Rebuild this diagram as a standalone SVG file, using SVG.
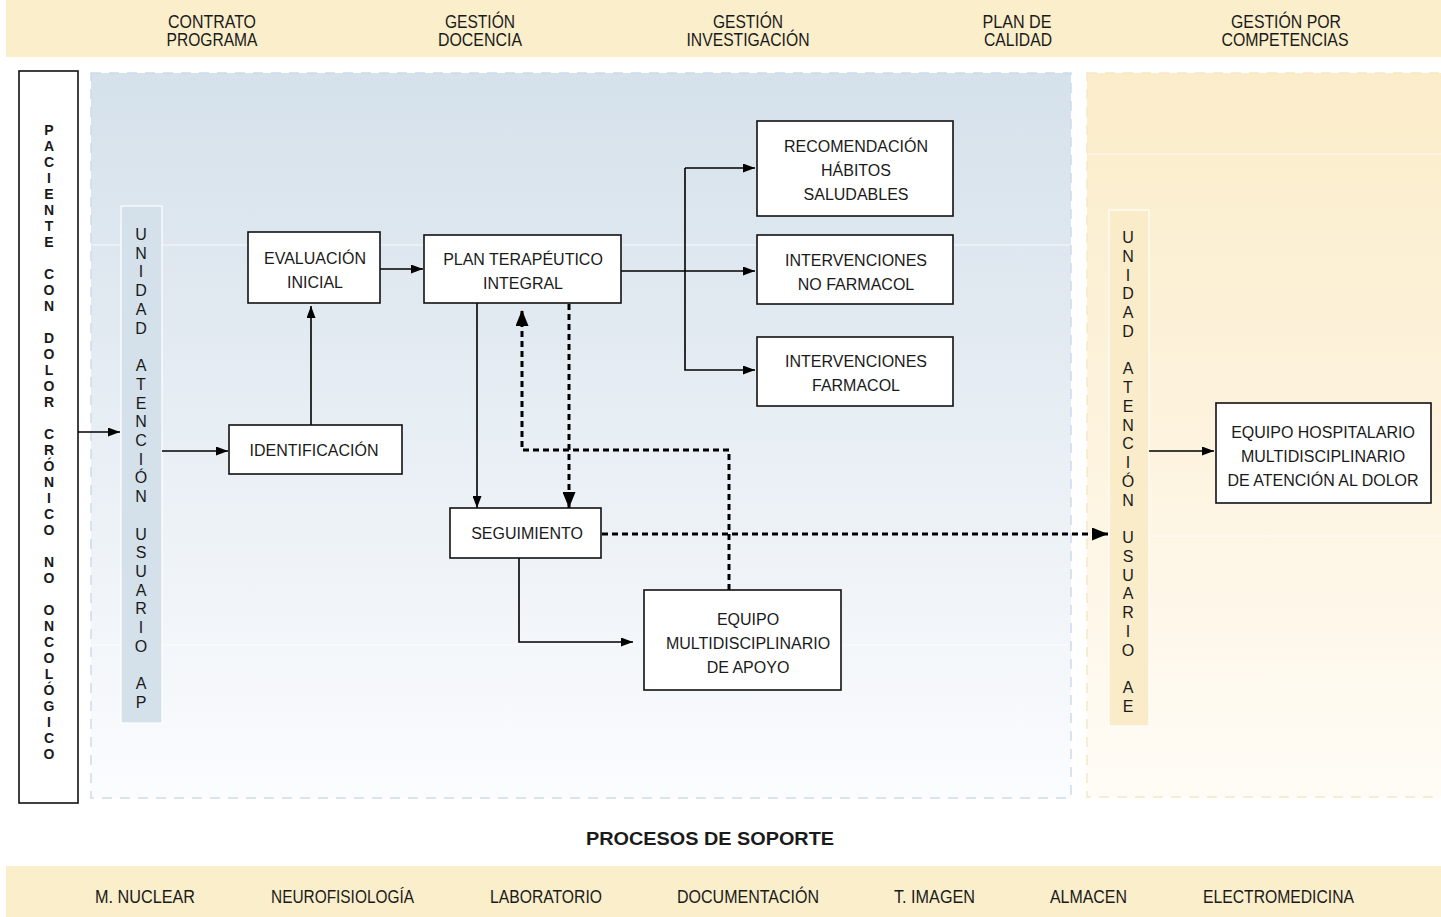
<svg xmlns="http://www.w3.org/2000/svg" width="1441" height="917" viewBox="0 0 1441 917">
<style>
.bar{fill:#fbeecb}
.t{font-family:"Liberation Sans",Arial,sans-serif;fill:#1a1a1a}
.bt{font-size:18px;text-anchor:middle}
.nt{font-size:16px;text-anchor:middle}
.node{fill:#fff;stroke:#111;stroke-width:1.6}
.ln{fill:none;stroke:#000;stroke-width:1.6}
.dl{fill:none;stroke:#000;stroke-width:3;stroke-dasharray:6 4}
.vl{font-size:14px;font-weight:bold;text-anchor:middle}
.vc{font-size:16px;text-anchor:middle}
.band{stroke:#fff;stroke-width:1;opacity:0.8}
</style>
<defs>
<linearGradient id="gb" x1="0" y1="0" x2="0" y2="1">
<stop offset="0" stop-color="#d5e1eb"/>
<stop offset="0.45" stop-color="#e6edf3"/>
<stop offset="1" stop-color="#fbfcfe"/>
</linearGradient>
<linearGradient id="gy" x1="0" y1="0" x2="0" y2="1">
<stop offset="0" stop-color="#fbedca"/>
<stop offset="0.5" stop-color="#fdf3de"/>
<stop offset="1" stop-color="#fffcf6"/>
</linearGradient>
<marker id="ah" markerUnits="userSpaceOnUse" markerWidth="12" markerHeight="9" refX="12" refY="4.5" orient="auto"><path d="M0,0 L12,4.5 L0,9 z" fill="#000"/></marker>
<marker id="ahd" markerUnits="userSpaceOnUse" markerWidth="16" markerHeight="13" refX="16" refY="6.5" orient="auto"><path d="M0,0 L16,6.5 L0,13 z" fill="#000"/></marker>
</defs>

<rect width="1441" height="917" fill="#fff"/>

<g id="top-bar">
<rect class="bar" x="6" y="0" width="1435" height="57"/>
<text class="t bt"><tspan x="212" y="28" textLength="88" lengthAdjust="spacingAndGlyphs">CONTRATO</tspan><tspan x="212" y="46" textLength="91" lengthAdjust="spacingAndGlyphs">PROGRAMA</tspan></text>
<text class="t bt"><tspan x="480" y="28" textLength="70" lengthAdjust="spacingAndGlyphs">GESTIÓN</tspan><tspan x="480" y="46" textLength="84" lengthAdjust="spacingAndGlyphs">DOCENCIA</tspan></text>
<text class="t bt"><tspan x="748" y="28" textLength="70" lengthAdjust="spacingAndGlyphs">GESTIÓN</tspan><tspan x="748" y="46" textLength="123" lengthAdjust="spacingAndGlyphs">INVESTIGACIÓN</tspan></text>
<text class="t bt"><tspan x="1017" y="28" textLength="69" lengthAdjust="spacingAndGlyphs">PLAN DE</tspan><tspan x="1018" y="46" textLength="68" lengthAdjust="spacingAndGlyphs">CALIDAD</tspan></text>
<text class="t bt"><tspan x="1286" y="28" textLength="110" lengthAdjust="spacingAndGlyphs">GESTIÓN POR</tspan><tspan x="1285" y="46" textLength="127" lengthAdjust="spacingAndGlyphs">COMPETENCIAS</tspan></text>
</g>

<g id="panel-ap">
<rect x="91" y="73" width="980" height="725" fill="url(#gb)" stroke="#cddcea" stroke-width="1.5" stroke-dasharray="10 8"/>
<line class="band" x1="92" y1="245" x2="1070" y2="245"/>
<line class="band" x1="92" y1="645" x2="1070" y2="645"/>
</g>

<g id="panel-ae">
<rect x="1087" y="73" width="360" height="724" fill="url(#gy)" stroke="#f6e8c6" stroke-width="1.5" stroke-dasharray="10 8"/>
<line class="band" x1="1088" y1="154" x2="1441" y2="154"/>
<line class="band" x1="1088" y1="536" x2="1441" y2="536"/>
</g>

<g id="paciente">
<rect x="19" y="71" width="59" height="732" fill="#fff" stroke="#111" stroke-width="1.6"/>
<text class="t vl"><tspan x="49" y="135">P</tspan><tspan x="49" y="151">A</tspan><tspan x="49" y="167">C</tspan><tspan x="49" y="183">I</tspan><tspan x="49" y="199">E</tspan><tspan x="49" y="215">N</tspan><tspan x="49" y="231">T</tspan><tspan x="49" y="247">E</tspan><tspan x="49" y="279">C</tspan><tspan x="49" y="295">O</tspan><tspan x="49" y="311">N</tspan><tspan x="49" y="343">D</tspan><tspan x="49" y="359">O</tspan><tspan x="49" y="375">L</tspan><tspan x="49" y="391">O</tspan><tspan x="49" y="407">R</tspan><tspan x="49" y="439">C</tspan><tspan x="49" y="455">R</tspan><tspan x="49" y="471">Ó</tspan><tspan x="49" y="487">N</tspan><tspan x="49" y="503">I</tspan><tspan x="49" y="519">C</tspan><tspan x="49" y="535">O</tspan><tspan x="49" y="567">N</tspan><tspan x="49" y="583">O</tspan><tspan x="49" y="615">O</tspan><tspan x="49" y="631">N</tspan><tspan x="49" y="647">C</tspan><tspan x="49" y="663">O</tspan><tspan x="49" y="679">L</tspan><tspan x="49" y="695">Ó</tspan><tspan x="49" y="711">G</tspan><tspan x="49" y="727">I</tspan><tspan x="49" y="743">C</tspan><tspan x="49" y="759">O</tspan></text>
</g>

<g id="unidad-ap">
<rect x="121" y="206" width="41" height="517" fill="#d4e0ea" stroke="#fff" stroke-width="1.2"/>
<text class="t vc"><tspan x="141" y="240">U</tspan><tspan x="141" y="258.7">N</tspan><tspan x="141" y="277.4">I</tspan><tspan x="141" y="296.2">D</tspan><tspan x="141" y="314.9">A</tspan><tspan x="141" y="333.6">D</tspan><tspan x="141" y="371">A</tspan><tspan x="141" y="389.8">T</tspan><tspan x="141" y="408.5">E</tspan><tspan x="141" y="427.2">N</tspan><tspan x="141" y="445.9">C</tspan><tspan x="141" y="464.6">I</tspan><tspan x="141" y="483.4">Ó</tspan><tspan x="141" y="502.1">N</tspan><tspan x="141" y="539.5">U</tspan><tspan x="141" y="558.2">S</tspan><tspan x="141" y="577">U</tspan><tspan x="141" y="595.7">A</tspan><tspan x="141" y="614.4">R</tspan><tspan x="141" y="633.1">I</tspan><tspan x="141" y="651.8">O</tspan><tspan x="141" y="689.3">A</tspan><tspan x="141" y="708">P</tspan></text>
</g>

<g id="unidad-ae">
<rect x="1109" y="210" width="40" height="516" fill="#fbecc9" stroke="#fff" stroke-width="1.2"/>
<text class="t vc"><tspan x="1128" y="243">U</tspan><tspan x="1128" y="261.8">N</tspan><tspan x="1128" y="280.5">I</tspan><tspan x="1128" y="299.3">D</tspan><tspan x="1128" y="318">A</tspan><tspan x="1128" y="336.8">D</tspan><tspan x="1128" y="374.3">A</tspan><tspan x="1128" y="393.1">T</tspan><tspan x="1128" y="411.8">E</tspan><tspan x="1128" y="430.6">N</tspan><tspan x="1128" y="449.4">C</tspan><tspan x="1128" y="468.1">I</tspan><tspan x="1128" y="486.9">Ó</tspan><tspan x="1128" y="505.6">N</tspan><tspan x="1128" y="543.2">U</tspan><tspan x="1128" y="561.9">S</tspan><tspan x="1128" y="580.7">U</tspan><tspan x="1128" y="599.4">A</tspan><tspan x="1128" y="618.2">R</tspan><tspan x="1128" y="637">I</tspan><tspan x="1128" y="655.7">O</tspan><tspan x="1128" y="693.2">A</tspan><tspan x="1128" y="712">E</tspan></text>
</g>

<g id="connectors">
<line class="ln" x1="78" y1="432" x2="120" y2="432" marker-end="url(#ah)"/>
<line class="ln" x1="162" y1="451" x2="228" y2="451" marker-end="url(#ah)"/>
<line class="ln" x1="311" y1="425" x2="311" y2="306" marker-end="url(#ah)"/>
<line class="ln" x1="380" y1="269" x2="423" y2="269" marker-end="url(#ah)"/>
<line class="ln" x1="621" y1="271" x2="755" y2="271" marker-end="url(#ah)"/>
<path class="ln" d="M685,168 V370 H755" marker-end="url(#ah)"/>
<line class="ln" x1="685" y1="168" x2="755" y2="168" marker-end="url(#ah)"/>
<line class="ln" x1="477" y1="303" x2="477" y2="508" marker-end="url(#ah)"/>
<path class="ln" d="M519,558 V642 H633" marker-end="url(#ah)"/>
<line class="ln" x1="1149" y1="451" x2="1214" y2="451" marker-end="url(#ah)"/>
<line class="dl" x1="569" y1="304" x2="569" y2="508" marker-end="url(#ahd)"/>
<path class="dl" d="M729,590 V450 H522 V310" marker-end="url(#ahd)"/>
<line class="dl" x1="602" y1="534" x2="1108" y2="534" marker-end="url(#ahd)"/>
</g>

<g id="evaluacion">
<rect class="node" x="248" y="232" width="132" height="71"/>
<text class="t nt"><tspan x="315" y="264">EVALUACIÓN</tspan><tspan x="315" y="288">INICIAL</tspan></text>
</g>
<g id="identificacion">
<rect class="node" x="229" y="425" width="173" height="49"/>
<text class="t nt"><tspan x="314" y="456">IDENTIFICACIÓN</tspan></text>
</g>
<g id="plan">
<rect class="node" x="424" y="235" width="197" height="68"/>
<text class="t nt"><tspan x="523" y="265">PLAN TERAPÉUTICO</tspan><tspan x="523" y="289">INTEGRAL</tspan></text>
</g>
<g id="recomendacion">
<rect class="node" x="757" y="121" width="196" height="95"/>
<text class="t nt"><tspan x="856" y="152">RECOMENDACIÓN</tspan><tspan x="856" y="176">HÁBITOS</tspan><tspan x="856" y="200">SALUDABLES</tspan></text>
</g>
<g id="interv-no-farmacol">
<rect class="node" x="757" y="235" width="196" height="69"/>
<text class="t nt"><tspan x="856" y="266">INTERVENCIONES</tspan><tspan x="856" y="290">NO FARMACOL</tspan></text>
</g>
<g id="interv-farmacol">
<rect class="node" x="757" y="337" width="196" height="69"/>
<text class="t nt"><tspan x="856" y="367">INTERVENCIONES</tspan><tspan x="856" y="391">FARMACOL</tspan></text>
</g>
<g id="seguimiento">
<rect class="node" x="450" y="508" width="151" height="50"/>
<text class="t nt"><tspan x="527" y="539">SEGUIMIENTO</tspan></text>
</g>
<g id="equipo-apoyo">
<rect class="node" x="644" y="590" width="197" height="100"/>
<text class="t nt"><tspan x="748" y="625">EQUIPO</tspan><tspan x="748" y="649">MULTIDISCIPLINARIO</tspan><tspan x="748" y="673">DE APOYO</tspan></text>
</g>
<g id="equipo-hospitalario">
<rect class="node" x="1216" y="403" width="215" height="100"/>
<text class="t nt"><tspan x="1323" y="438">EQUIPO HOSPITALARIO</tspan><tspan x="1323" y="462">MULTIDISCIPLINARIO</tspan><tspan x="1323" y="486">DE ATENCIÓN AL DOLOR</tspan></text>
</g>

<g id="procesos-soporte">
<text class="t" x="710" y="845" font-size="19" font-weight="bold" text-anchor="middle" textLength="248" lengthAdjust="spacingAndGlyphs">PROCESOS DE SOPORTE</text>
</g>

<g id="bottom-bar">
<rect class="bar" x="6" y="866" width="1435" height="51"/>
<text class="t bt"><tspan x="145" y="903" textLength="100" lengthAdjust="spacingAndGlyphs">M. NUCLEAR</tspan><tspan x="342.5" y="903" textLength="143" lengthAdjust="spacingAndGlyphs">NEUROFISIOLOGÍA</tspan><tspan x="546" y="903" textLength="112" lengthAdjust="spacingAndGlyphs">LABORATORIO</tspan><tspan x="748" y="903" textLength="142" lengthAdjust="spacingAndGlyphs">DOCUMENTACIÓN</tspan><tspan x="934.5" y="903" textLength="81" lengthAdjust="spacingAndGlyphs">T. IMAGEN</tspan><tspan x="1088.5" y="903" textLength="77" lengthAdjust="spacingAndGlyphs">ALMACEN</tspan><tspan x="1278.5" y="903" textLength="151" lengthAdjust="spacingAndGlyphs">ELECTROMEDICINA</tspan></text>
</g>
</svg>
